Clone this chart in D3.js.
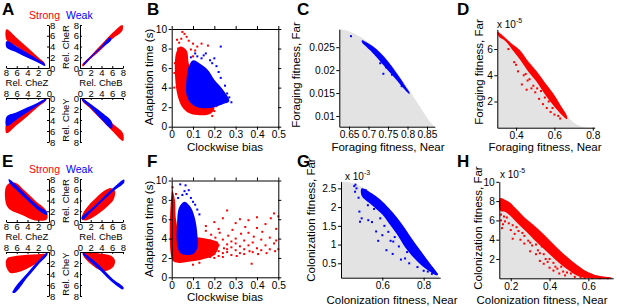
<!DOCTYPE html>
<html>
<head>
<meta charset="utf-8">
<script src="https://cdn.jsdelivr.net/npm/d3@7"></script>
<style>
  body { margin: 0; background: #fff; }
  svg text { font-family: "Liberation Sans", Arial, Helvetica, sans-serif; fill: #000; }
</style>
</head>
<body>
<div id="fig"></div>
<script>
// ---- data ----
// A / E: bands in units of [Rel. CheZ or CheB, Rel. CheR or CheY], red = strong, blue = weak
const aZR_red  = [[7.9,7.2],[6,5.6],[4,3.8],[2,2.0],[0.8,0.9],[0.8,0.5],[2,1.4],[4,2.7],[6,4.0],[7.9,5.2]];
const aZR_blue = [[7.9,5.0],[6,4.0],[4,2.8],[2,1.6],[0.8,0.8],[0.7,0.4],[2,1.0],[4,1.9],[6,2.9],[7.9,3.8]];
const aBR_red  = [[0.4,0.6],[2,2.3],[4,4.4],[6,6.5],[7.9,8.0],[7.9,7.0],[6,5.4],[4,3.5],[2,1.7],[0.5,0.3]];
const aBR_blue = [[0.6,0.7],[2,2.2],[4,4.1],[5.6,5.7],[5.8,5.2],[4,3.7],[2,1.8],[0.6,0.4]];
const aZY_red  = [[7.9,4.5],[6,3.5],[4,2.3],[2,1.1],[0.6,0.2],[0.6,0.5],[2,1.6],[4,3.3],[6,4.9],[7.9,6.4]];
const aZY_blue = [[7.9,3.4],[6,2.6],[4,1.7],[2,0.8],[0.5,0.1],[0.5,0.35],[2,1.3],[4,2.6],[6,3.9],[7.9,5.1]];
const aBY_red  = [[0.4,0.1],[2,1.2],[4,2.8],[6,4.6],[8,6.4],[8,7.8],[6,6.0],[4,4.0],[2,2.0],[0.4,0.5]];
const aBY_blue = [[0.4,0.1],[2,1.1],[4,2.6],[5.9,4.3],[5.9,5.6],[4,3.9],[2,1.8],[0.4,0.4]];

const eZR_red  = [[7.8,6.9],[6.3,7.3],[4.5,5.8],[2.5,3.9],[0.5,2.1],[0.4,0.5],[2.6,0.3],[5,1.3],[7.6,2.6],[8.2,4.8]];
const eZR_blue = [[7.5,8.0],[6,6.8],[4,4.8],[2,3.0],[0.4,1.9],[0.4,1.3],[2,2.2],[4,4.0],[6,5.9],[7.3,7.2]];
const eBR_red  = [[0.3,0.5],[0.5,1.5],[1.5,3.0],[3,4.5],[4.5,5.8],[5.8,6.3],[6.5,5.8],[6.3,4.3],[5.2,3.0],[3.8,1.8],[2.3,0.8],[1,0.3]];
const eBR_blue = [[0.3,0.8],[2,2.4],[4,4.3],[6,6.2],[8.2,7.9],[8.2,7.3],[6,5.6],[4,3.7],[2,1.8],[0.5,0.4]];
const eZY_red  = [[0.5,0.4],[2,0.4],[4,0.5],[6,0.7],[7.8,1.2],[8,2.5],[7.2,3.8],[5.5,3.6],[4,3.0],[2.5,2.2],[1.2,1.2]];
const eZY_blue = [[0.3,0.1],[2,1.6],[4,3.8],[6,6.0],[6.8,7.4],[6.3,7.4],[4,4.6],[2,2.3],[0.3,0.5]];
const eBY_red  = [[0.5,0.3],[2,0.2],[4,0.3],[5.8,0.7],[6.5,1.5],[6.2,2.7],[5,3.4],[3.5,3.2],[2,2.2],[0.8,1.0]];
const eBY_blue = [[0.5,0.1],[2,1.1],[4,2.8],[6,4.8],[8.1,6.4],[8.0,6.8],[6,5.5],[4,3.6],[2,1.8],[0.6,0.5]];

const quadTicks = [0, 2, 4, 6, 8];
const legendNames = ["Strong", "Weak"];

// B / F: clockwise bias vs adaptation time
const bRed  = [[0.02,7.5],[0.04,8.2],[0.07,7.8],[0.08,6.5],[0.1,5.2],[0.15,3.3],[0.19,2.6],[0.2,1.8],[0.18,1.3],[0.12,1.2],[0.08,1.4],[0.05,2.0],[0.03,3.0],[0.018,4.5]];
const bBlue = [[0.07,5.0],[0.08,6.2],[0.1,6.8],[0.13,6.5],[0.17,5.8],[0.2,4.8],[0.24,3.8],[0.27,2.6],[0.24,2.3],[0.2,2.0],[0.16,1.9],[0.12,2.0],[0.09,2.4],[0.07,3.2]];
const bRedPts  = [[0.05,9.7],[0.06,9.5],[0.07,9.2],[0.1,8.5],[0.12,8.2],[0.035,8.6],[0.08,8.8],[0.14,8.5],[0.09,7.9],[0.11,7.8],[0.03,8.0],[0.015,6.5],[0.013,5.5],[0.17,8.3],[0.2,1.6],[0.21,2.1],[0.19,1.1],[0.025,8.9],[0.045,9.0],[0.1,7.2],[0.012,4.0]];
const bBluePts = [[0.23,8.2],[0.16,7.5],[0.12,7.2],[0.14,7.0],[0.19,6.5],[0.21,6.2],[0.25,4.2],[0.26,3.4],[0.28,2.5],[0.11,7.5],[0.09,7.1],[0.18,6.8],[0.22,5.6],[0.23,5.0],[0.27,3.0],[0.15,7.3],[0.2,7.0]];

const fRed  = [[0.003,9.0],[0.015,8.0],[0.02,6.0],[0.04,4.5],[0.1,4.2],[0.16,4.0],[0.22,3.5],[0.2,2.3],[0.15,1.9],[0.08,1.6],[0.03,1.5],[0.003,1.8]];
const fBlue = [[0.035,7.2],[0.06,7.8],[0.09,7.2],[0.11,6.0],[0.12,4.5],[0.12,3.0],[0.1,2.4],[0.07,2.3],[0.04,2.5],[0.025,3.5],[0.025,5.5]];
const fRedPts = [
  [0.16,2.2],[0.16,3.4],[0.16,4.8],[0.165,2.9],[0.16,5.3],[0.18,2.6],[0.18,3.8],[0.18,2.1],[0.185,4.4],[0.18,3.1],
  [0.2,2.4],[0.2,3.0],[0.205,4.1],[0.2,5.7],[0.2,2.0],[0.21,3.6],[0.22,2.7],[0.22,3.3],[0.225,4.6],[0.22,2.2],
  [0.22,5.0],[0.24,2.5],[0.24,3.9],[0.245,3.0],[0.24,6.1],[0.24,2.1],[0.26,3.4],[0.26,2.6],[0.265,4.3],[0.26,6.9],
  [0.26,2.9],[0.28,2.3],[0.28,3.7],[0.285,4.9],[0.28,3.1],[0.3,2.8],[0.3,3.5],[0.3,5.6],[0.305,2.2],[0.3,4.0],
  [0.32,3.2],[0.32,2.5],[0.325,4.5],[0.32,6.0],[0.34,2.9],[0.34,3.8],[0.345,5.2],[0.34,2.4],[0.36,3.3],[0.36,4.6],
  [0.365,2.7],[0.36,5.9],[0.375,1.4],[0.38,3.6],[0.38,2.6],[0.385,4.2],[0.4,3.0],[0.4,5.1],[0.405,2.4],[0.4,6.2],
  [0.42,3.9],[0.42,2.8],[0.425,4.7],[0.44,3.3],[0.44,5.5],[0.445,2.5],[0.46,4.1],[0.46,2.9],[0.465,6.1],[0.48,3.5],
  [0.48,6.6],[0.485,2.7],[0.49,3.8],[0.49,5.0],[0.5,2.9],[0.5,6.3],[0.004,9.3],[0.02,8.6],[0.13,1.5],[0.1,1.3]
];
const fBluePts = [[0.04,9.6],[0.065,9.5],[0.05,8.5],[0.07,8.6],[0.09,8.2],[0.1,7.8],[0.12,7.0],[0.13,6.5],[0.03,8.2],[0.08,9.0],[0.06,8.9],[0.11,7.5]];
const biasTicks = [0, 0.1, 0.2, 0.3, 0.4, 0.5];
const timeTicks = [0, 2, 4, 6, 8, 10];

// C: foraging fitness, weak cells
const cFront = [[0.625,0.0289],[0.65,0.0285],[0.68,0.0272],[0.70,0.0261],[0.72,0.0247],[0.74,0.0230],[0.76,0.0210],[0.78,0.0187],[0.80,0.0162],[0.82,0.0136],[0.84,0.0109],[0.855,0.0090],[0.868,0.0077]];
const cBlue = [[0.683,0.0265],[0.70,0.0258],[0.72,0.0246],[0.74,0.0229],[0.76,0.0208],[0.78,0.0184],[0.80,0.0158],[0.805,0.0151],[0.805,0.0148],[0.79,0.0160],[0.77,0.0180],[0.75,0.0199],[0.73,0.0219],[0.71,0.0238],[0.69,0.0254],[0.683,0.0261]];
const cBluePts = [[0.655,0.0274],[0.738,0.0192],[0.72,0.0234],[0.745,0.0206],[0.76,0.0190],[0.73,0.0215],[0.785,0.0165]];
const cXTicks = [0.65, 0.7, 0.75, 0.8, 0.85];
const cYTicks = [0.01, 0.015, 0.02, 0.025];

// D: foraging fitness, strong cells (x 10^-5)
const dFront = [[0.302,7.5],[0.333,7.05],[0.37,6.55],[0.42,5.95],[0.46,5.2],[0.51,4.3],[0.55,3.45],[0.59,2.65],[0.63,1.8],[0.665,0.95],[0.70,0.4],[0.74,0.1],[0.77,0.0]];
const dRed = [[0.305,7.3],[0.333,7.0],[0.37,6.5],[0.42,5.9],[0.46,5.1],[0.507,4.3],[0.55,3.45],[0.594,2.6],[0.63,1.75],[0.665,0.9],[0.665,0.65],[0.64,0.95],[0.60,1.6],[0.55,2.55],[0.507,3.5],[0.46,4.35],[0.42,5.2],[0.38,5.95],[0.345,6.6],[0.31,6.95]];
const dRedPts = [[0.43,3.3],[0.455,2.9],[0.46,3.6],[0.48,3.0],[0.5,2.7],[0.52,2.2],[0.54,1.8],[0.56,1.5],[0.58,1.2],[0.6,1.0],[0.41,4.3],[0.44,4.0],[0.47,3.7],[0.53,2.8],[0.57,2.0],[0.62,0.9],[0.39,5.0],[0.36,6.0],[0.49,3.2],[0.51,3.0],[0.4,4.8],[0.45,4.1],[0.55,2.3],[0.59,1.5],[0.63,0.7]];
const dXTicks = [0.4, 0.6, 0.8];
const dYTicks = [2, 4, 6];

// G: colonization fitness, weak cells (x 10^-3)
const gFront = [[0.4,2.68],[0.46,2.63],[0.55,2.38],[0.63,1.95],[0.71,1.37],[0.79,0.74],[0.85,0.32],[0.875,0.14]];
const gBlue = [[0.50,2.5],[0.55,2.36],[0.60,2.15],[0.63,1.98],[0.67,1.73],[0.71,1.43],[0.75,1.10],[0.79,0.80],[0.83,0.50],[0.86,0.29],[0.87,0.2],[0.86,0.18],[0.83,0.28],[0.79,0.44],[0.75,0.66],[0.71,0.93],[0.67,1.28],[0.63,1.58],[0.60,1.8],[0.55,2.05],[0.50,2.3]];
const gBluePts = [[0.464,2.56],[0.468,2.41],[0.475,2.5],[0.489,1.88],[0.5,1.7],[0.492,1.61],[0.532,1.65],[0.52,2.45],[0.53,2.05],[0.55,1.6],[0.56,1.95],[0.57,1.35],[0.58,1.1],[0.59,1.7],[0.6,1.25],[0.62,0.85],[0.629,1.34],[0.64,1.1],[0.653,1.08],[0.65,0.75],[0.66,1.2],[0.68,0.95],[0.69,0.6],[0.7,1.1],[0.71,0.63],[0.72,0.8],[0.73,0.5],[0.758,0.67],[0.77,0.4],[0.78,0.65],[0.8,0.3],[0.82,0.28],[0.84,0.22],[0.47,2.6],[0.54,2.2],[0.61,1.5],[0.65,1.55],[0.74,0.9],[0.51,2.38],[0.485,2.25]];
const gXTicks = [0.6, 0.8];
const gYTicks = [0.5, 1, 1.5, 2, 2.5];

// H: colonization fitness, strong cells (x 10^-5)
const hFront = [[0.141,8.35],[0.17,8.2],[0.196,7.9],[0.22,7.4],[0.25,6.8],[0.28,6.2],[0.316,5.6],[0.36,4.8],[0.40,4.0],[0.44,3.2],[0.488,2.3],[0.54,1.45],[0.59,0.75],[0.63,0.4],[0.677,0.2],[0.728,0.05]];
const hRed = [[0.145,8.3],[0.17,8.15],[0.196,7.85],[0.22,7.35],[0.25,6.75],[0.28,6.15],[0.316,5.55],[0.36,4.75],[0.40,3.95],[0.44,3.15],[0.488,2.25],[0.54,1.4],[0.59,0.72],[0.63,0.38],[0.677,0.18],[0.72,0.05],[0.72,0.0],[0.6,0.02],[0.54,0.3],[0.50,0.8],[0.454,1.5],[0.41,2.3],[0.368,3.1],[0.32,4.0],[0.282,4.8],[0.24,5.6],[0.196,6.5],[0.17,6.9],[0.145,7.0]];
const hRedPts = [
  [0.15,6.0],[0.16,5.6],[0.155,5.2],[0.17,5.9],[0.2,5.0],[0.22,4.6],[0.25,4.0],[0.27,3.6],[0.3,2.8],[0.33,2.5],
  [0.35,1.8],[0.37,1.5],[0.4,1.1],[0.42,0.8],[0.45,0.5],[0.48,0.3],[0.26,4.7],[0.31,3.4],[0.34,2.9],[0.29,3.9],
  [0.38,2.0],[0.43,1.2],[0.47,0.7],[0.23,5.3],[0.18,6.3],[0.21,4.1],[0.36,3.3],[0.39,1.7],[0.15,6.6],[0.165,6.4],
  [0.19,5.7],[0.21,5.5],[0.24,4.9],[0.27,4.4],[0.3,3.7],[0.33,3.5],[0.35,2.6],[0.37,2.5],[0.4,2.0],[0.42,1.6],
  [0.44,1.0],[0.46,1.2],[0.49,0.6],[0.51,0.5],[0.53,0.15],[0.56,0.1],[0.58,0.05],[0.62,0.02],[0.66,0.02],[0.7,0.01]
];
const hXTicks = [0.2, 0.4, 0.6];
const hYTicks = [2, 4, 6, 8, 10];

// ---- drawing ----
const RED = "#ff0000", BLUE = "#0000ff", GREY = "#e3e3e3";

const svg = d3.select("#fig").append("svg")
    .attr("width", 617)
    .attr("height", 307);

const fmt = d => String(d);

function styleAxis(g, size) {
    g.attr("font-size", size).attr("font-family", null);
    g.selectAll("line, path").attr("stroke", "#000");
}

function cloud(g, x, y, poly, color) {
    g.append("path").datum(poly)
        .attr("d", d3.line().x(d => x(d[0])).y(d => y(d[1])).curve(d3.curveCatmullRomClosed))
        .attr("fill", color);
}

function dots(g, x, y, pts, color) {
    g.selectAll(null).data(pts).join("rect")
        .attr("x", d => x(d[0]) - 1)
        .attr("y", d => y(d[1]) - 1)
        .attr("width", 2)
        .attr("height", 2)
        .attr("fill", color);
}

function letter(txt, x, y) {
    svg.append("text").attr("x", x).attr("y", y)
        .attr("font-size", 17).attr("font-weight", "bold").text(txt);
}

function yTitle(txt, x, y) {
    svg.append("text")
        .attr("transform", `translate(${x},${y}) rotate(-90)`)
        .attr("text-anchor", "middle").attr("dy", "0.35em")
        .attr("font-size", 11.5).text(txt);
}

function xTitle(txt, x, y) {
    svg.append("text").attr("x", x).attr("y", y)
        .attr("text-anchor", "middle").attr("font-size", 11.5).text(txt);
}

function exponent(x, y, p) {
    const t = svg.append("text").attr("x", x).attr("y", y).attr("font-size", 10);
    t.append("tspan").text("x 10");
    t.append("tspan").attr("dy", -5).attr("font-size", 7).text(p);
}

// A and E: four quadrants around a cross of axes
function quadPanel(off, bands) {
    const g = svg.append("g");
    const xL = d3.scaleLinear([0, 8], [49, 6]);
    const xR = d3.scaleLinear([0, 8], [80, 123]);
    const yT = d3.scaleLinear([0, 8], [68 + off, 25 + off]);
    const yB = d3.scaleLinear([0, 8], [98 + off, 142 + off]);

    const quads = [
        [xL, yT, bands[0]], [xR, yT, bands[1]],
        [xL, yB, bands[2]], [xR, yB, bands[3]]
    ];
    quads.forEach(([x, y, b]) => {
        cloud(g, x, y, b[0], RED);
        cloud(g, x, y, b[1], BLUE);
    });

    // ticks point into the quadrant, labels sit right against the axis
    const ax = (axis, tx, ty) => g.append("g")
        .attr("transform", `translate(${tx},${ty})`)
        .call(axis.tickValues(quadTicks).tickFormat(fmt).tickSizeInner(-2).tickSizeOuter(0).tickPadding(1))
        .call(a => styleAxis(a, 9.5));

    ax(d3.axisRight(yT), 49, 0);
    ax(d3.axisLeft(yT), 80, 0);
    ax(d3.axisRight(yB), 49, 0);
    ax(d3.axisLeft(yB), 80, 0);
    ax(d3.axisBottom(xL), 0, 68 + off);
    ax(d3.axisBottom(xR), 0, 68 + off);
    ax(d3.axisTop(xL), 0, 98 + off);
    ax(d3.axisTop(xR), 0, 98 + off);

    g.append("text").attr("x", 27).attr("y", 86 + off).attr("text-anchor", "middle")
        .attr("font-size", 9.5).text("Rel. CheZ");
    g.append("text").attr("x", 101).attr("y", 86 + off).attr("text-anchor", "middle")
        .attr("font-size", 9.5).text("Rel. CheB");
    [["Rel. CheR", 47], ["Rel. CheY", 120]].forEach(([t, cy]) => {
        g.append("text")
            .attr("transform", `translate(65.5,${cy + off}) rotate(-90)`)
            .attr("text-anchor", "middle").attr("dy", "0.35em")
            .attr("font-size", 9.5).text(t);
    });

    g.append("text").attr("x", 60).attr("y", 19 + off).attr("text-anchor", "end")
        .attr("font-size", 10.5).style("fill", RED).text(legendNames[0]);
    g.append("text").attr("x", 66).attr("y", 19 + off)
        .attr("font-size", 10.5).style("fill", BLUE).text(legendNames[1]);
}

// B and F: boxed scatter
function biasPanel(top, bottom, red, blue, redPts, bluePts) {
    const g = svg.append("g");
    const x = d3.scaleLinear([0, 0.5], [171.7, 278.3]);
    const y = d3.scaleLinear([0, 10], [bottom, top]);

    cloud(g, x, y, red, RED);
    dots(g, x, y, redPts, RED);
    cloud(g, x, y, blue, BLUE);
    dots(g, x, y, bluePts, BLUE);

    const ax = (axis, tx, ty, lab) => g.append("g")
        .attr("transform", `translate(${tx},${ty})`)
        .call(axis.tickSize(3).tickSizeOuter(0).tickPadding(1.5).tickFormat(lab ? fmt : ""))
        .call(a => styleAxis(a, 10.2));
    ax(d3.axisBottom(x).tickValues(biasTicks), 0, bottom, true);
    ax(d3.axisTop(x).tickValues(biasTicks), 0, top, false);
    ax(d3.axisLeft(y).tickValues(timeTicks), x(0), 0, true);
    ax(d3.axisRight(y).tickValues(timeTicks), x(0.5), 0, false);
}

// C, D, G, H: grey feasible region with a frontier and a point cloud
function frontPanel(o) {
    const g = svg.append("g");
    const x = d3.scaleLinear(o.xDom, o.xRange);
    const y = d3.scaleLinear(o.yDom, o.yRange);

    g.append("path").datum(o.front)
        .attr("d", d3.area().x(d => x(d[0])).y0(y(o.yDom[0])).y1(d => y(d[1])).curve(d3.curveMonotoneX))
        .attr("fill", GREY);

    cloud(g, x, y, o.band, o.color);
    dots(g, x, y, o.pts, o.color);

    g.append("g").attr("transform", `translate(0,${o.yRange[0]})`)
        .call(d3.axisBottom(x).tickValues(o.xTicks).tickFormat(fmt).tickSize(3).tickSizeOuter(0).tickPadding(1.5))
        .call(a => styleAxis(a, 10.2));
    g.append("g").attr("transform", `translate(${o.xRange[0]},0)`)
        .call(d3.axisLeft(y).tickValues(o.yTicks).tickFormat(fmt).tickSize(3).tickSizeOuter(0).tickPadding(1.5))
        .call(a => styleAxis(a, 10.2));
}

quadPanel(0, [[aZR_red, aZR_blue], [aBR_red, aBR_blue], [aZY_red, aZY_blue], [aBY_red, aBY_blue]]);
quadPanel(154, [[eZR_red, eZR_blue], [eBR_red, eBR_blue], [eZY_red, eZY_blue], [eBY_red, eBY_blue]]);

biasPanel(29, 126.7, bRed, bBlue, bRedPts, bBluePts);
biasPanel(180.5, 277.3, fRed, fBlue, fRedPts, fBluePts);

frontPanel({ xDom: [0.625, 0.87], xRange: [339.3, 434.8], yDom: [0.00766, 0.0289], yRange: [126.7, 29.3],
    front: cFront, band: cBlue, pts: cBluePts, color: BLUE, xTicks: cXTicks, yTicks: cYTicks });
frontPanel({ xDom: [0.302, 0.81], xRange: [497.3, 594.7], yDom: [0, 7.5], yRange: [127.7, 29.4],
    front: dFront, band: dRed, pts: dRedPts, color: RED, xTicks: dXTicks, yTicks: dYTicks });
frontPanel({ xDom: [0.4, 0.88], xRange: [341, 440.2], yDom: [0.116, 2.68], yRange: [277.7, 181.6],
    front: gFront, band: gBlue, pts: gBluePts, color: BLUE, xTicks: gXTicks, yTicks: gYTicks });
frontPanel({ xDom: [0.141, 0.728], xRange: [499.3, 613.2], yDom: [0, 10], yRange: [278.3, 181.8],
    front: hFront, band: hRed, pts: hRedPts, color: RED, xTicks: hXTicks, yTicks: hYTicks });

exponent(497, 28, "-5");
exponent(345, 180, "-3");
exponent(500, 178, "-5");

letter("A", 2, 15); letter("B", 147, 15); letter("C", 297, 15); letter("D", 457, 15);
letter("E", 2, 167); letter("F", 147, 167); letter("G", 297, 167); letter("H", 457, 167);

yTitle("Adaptation time (s)", 149, 77);
yTitle("Adaptation time (s)", 149, 229);
yTitle("Foraging fitness, Far", 296, 75);
yTitle("Foraging fitness, Far", 479, 72);
yTitle("Colonization fitness, Far", 311, 220);
yTitle("Colonization fitness, Far", 478, 228);

xTitle("Clockwise bias", 225, 150.5);
xTitle("Clockwise bias", 225, 301);
xTitle("Foraging fitness, Near", 388, 150.5);
xTitle("Foraging fitness, Near", 545, 150.5);
xTitle("Colonization fitness, Near", 392, 304);
xTitle("Colonization fitness, Near", 542, 304);
</script>
</body>
</html>
